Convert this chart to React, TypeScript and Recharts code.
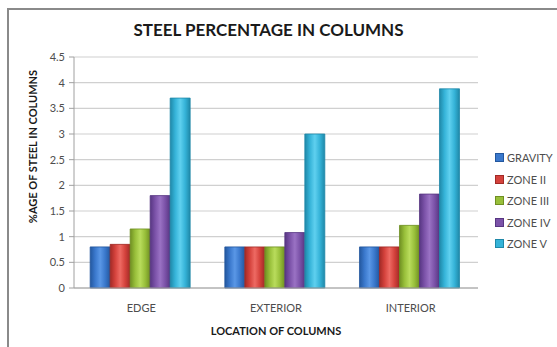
import React from 'react';
import { BarChart, Bar, XAxis, YAxis, CartesianGrid, Legend, Label } from 'recharts';

const locations = ['EDGE', 'EXTERIOR', 'INTERIOR'];
const gravity = [0.8, 0.8, 0.8];
const zone2 = [0.85, 0.8, 0.8];
const zone3 = [1.15, 0.8, 1.22];
const zone4 = [1.8, 1.08, 1.83];
const zone5 = [3.7, 3.0, 3.88];
const yTicks = [0, 0.5, 1, 1.5, 2, 2.5, 3, 3.5, 4, 4.5];

const seriesNames = ['GRAVITY', 'ZONE II', 'ZONE III', 'ZONE IV', 'ZONE V'];
const seriesValues = [gravity, zone2, zone3, zone4, zone5];

// light / mid / dark for a glossy Excel-ish bar
const COLORS = [
  ['#5a97e6', '#3a78cc', '#23579e'],
  ['#ee6a63', '#d4423c', '#a12a26'],
  ['#b9dc5c', '#98bf3a', '#6f8f22'],
  ['#9a72c4', '#7b52a8', '#573682'],
  ['#5fd0ef', '#35b3d8', '#1f88a8'],
];

const data = locations.map((loc, i) => {
  const row: Record<string, string | number> = { name: loc };
  seriesNames.forEach((s, j) => {
    row[s] = seriesValues[j][i];
  });
  return row;
});

const FONT = 'Lato, "Open Sans", sans-serif';

const LegendBox = (props: any) => {
  const { payload = [] } = props;
  return (
    <div style={{ width: 64, fontFamily: FONT, fontSize: 11, color: '#4d4d4d' }}>
      {payload.map((p: any, i: number) => {
        const idx = seriesNames.indexOf(p.value);
        return (
          <div key={i} style={{ height: 21.5, display: 'flex', alignItems: 'center', whiteSpace: 'nowrap' }}>
            <span
              style={{
                display: 'inline-block',
                width: 7,
                height: 7,
                marginRight: 3,
                background: COLORS[idx][1],
                border: `0.5px solid ${COLORS[idx][2]}`,
              }}
            />
            {p.value}
          </div>
        );
      })}
    </div>
  );
};

const App: React.FC = () => {
  return (
    <div style={{ position: 'absolute', left: 0, top: 0, width: 557, height: 347, background: '#fff', fontFamily: FONT }}>
      <div
        style={{
          position: 'absolute',
          left: 7,
          top: 8,
          width: 560,
          height: 350,
          borderTop: '2px solid #8a8a8a',
          borderLeft: '2px solid #8a8a8a',
        }}
      />
      <div
        style={{
          position: 'absolute',
          left: 0,
          width: 537,
          top: 19,
          textAlign: 'center',
          fontWeight: 700,
          fontSize: 17,
          color: '#1a1a1a',
        }}
      >
        STEEL PERCENTAGE IN COLUMNS
      </div>
      <BarChart
        width={557}
        height={347}
        data={data}
        margin={{ top: 57, right: 15, bottom: 29, left: 0 }}
        barCategoryGap="12%"
        barGap={0}
        style={{ position: 'absolute', left: 0, top: 0 }}
      >
        <defs>
          {COLORS.map((c, i) => (
            <linearGradient key={i} id={`g${i}`} x1="0" y1="0" x2="1" y2="0">
              <stop offset="0%" stopColor={c[2]} />
              <stop offset="25%" stopColor={c[1]} />
              <stop offset="50%" stopColor={c[0]} />
              <stop offset="75%" stopColor={c[1]} />
              <stop offset="100%" stopColor={c[2]} />
            </linearGradient>
          ))}
        </defs>
        <CartesianGrid vertical={false} stroke="#d0d0d0" strokeWidth={1.2} />
        <XAxis
          dataKey="name"
          stroke="#a0a0a0"
          tickLine={false}
          tick={{ fill: '#4d4d4d', fontSize: 11, fontFamily: FONT }}
          tickMargin={10}
        >
          <Label
            value="LOCATION OF COLUMNS"
            position="bottom"
            offset={9}
            style={{ fill: '#1a1a1a', fontSize: 11, fontWeight: 700, fontFamily: FONT }}
          />
        </XAxis>
        <YAxis
          width={74}
          domain={[0, 4.5]}
          ticks={yTicks}
          interval={0}
          stroke="#a0a0a0"
          tickSize={5}
          tickMargin={4}
          tick={{ fill: '#4d4d4d', fontSize: 11, fontFamily: FONT }}
        >
          <Label
            value="%AGE OF STEEL IN COLUMNS"
            angle={-90}
            position="insideLeft"
            offset={33}
            dy={-26}
            style={{ fill: '#1a1a1a', fontSize: 11, fontWeight: 700, fontFamily: FONT, textAnchor: 'middle' }}
          />
        </YAxis>
        <Legend
          layout="vertical"
          align="right"
          verticalAlign="top"
          content={<LegendBox />}
          wrapperStyle={{ left: 495, top: 147, width: 64 }}
        />
        {seriesNames.map((s, i) => (
          <Bar
            key={s}
            dataKey={s}
            fill={`url(#g${i})`}
            stroke={COLORS[i][2]}
            strokeWidth={0.8}
            legendType="square"
            isAnimationActive={false}
          />
        ))}
      </BarChart>
    </div>
  );
};

export default App;
